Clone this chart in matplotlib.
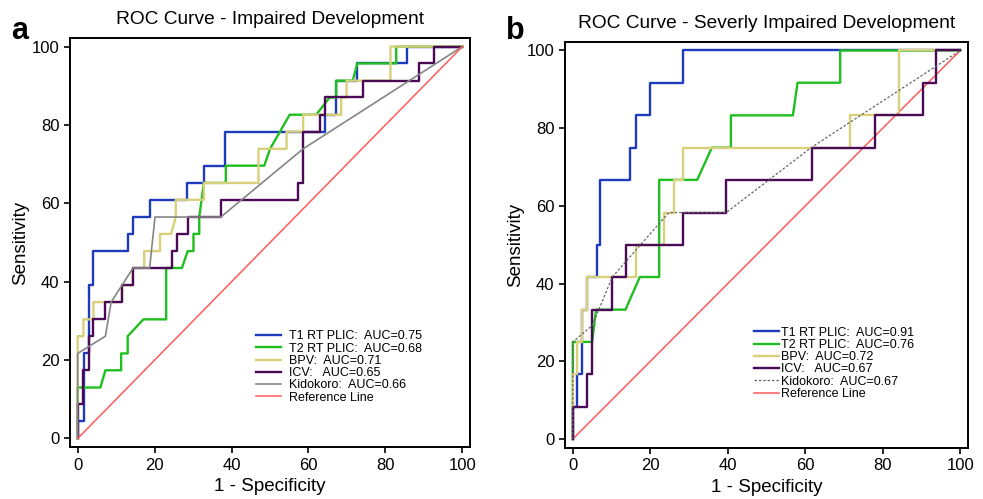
import matplotlib.pyplot as plt

plt.rcParams['font.family'] = ['Liberation Sans', 'DejaVu Sans']

# panel a: impaired development (1 - specificity, sensitivity) in %
a_t1_fpr = [0, 0, 1.6, 1.6, 2.9, 2.9, 4.1, 4.1, 13.0, 13.0, 14.4, 14.4, 18.7, 18.7, 28.5, 28.5,
            32.8, 32.8, 38.4, 38.4, 64.2, 64.2, 67.1, 67.1, 72.7, 72.7, 85.7, 85.7, 100]
a_t1_tpr = [0, 4.35, 4.35, 21.7, 21.7, 39.1, 39.1, 47.8, 47.8, 52.2, 52.2, 56.5, 56.5, 60.9, 60.9, 65.2,
            65.2, 69.6, 69.6, 78.3, 78.3, 82.6, 82.6, 91.3, 91.3, 95.7, 95.7, 100, 100]

a_t2_fpr = [0, 0, 5.9, 7.2, 11.3, 11.3, 13.0, 13.0, 17.1, 23.0, 23.0, 27.1, 28.6, 30.1, 30.1, 31.6,
            31.6, 32.8, 38.5, 38.5, 48.5, 50.0, 52.6, 55.1, 62.0, 65.5, 67.2, 67.2, 71.5, 72.7, 82.8, 82.8, 100]
a_t2_tpr = [0, 13.0, 13.0, 17.4, 17.4, 21.7, 21.7, 26.1, 30.4, 30.4, 43.5, 43.5, 47.8, 47.8, 52.2, 52.2,
            56.5, 65.2, 65.2, 69.6, 69.6, 73.9, 78.3, 82.6, 82.6, 87.0, 87.0, 91.3, 91.3, 95.7, 95.7, 100, 100]

a_bpv_fpr = [0, 0, 1.5, 1.5, 4.1, 4.1, 11.5, 11.5, 14.3, 14.3, 17.3, 17.3, 21.4, 21.4, 24.3, 25.5,
             25.5, 32.8, 32.8, 47.0, 47.0, 54.3, 54.3, 58.6, 58.6, 68.5, 68.5, 69.9, 69.9, 81.3, 81.3, 100]
a_bpv_tpr = [0, 26.1, 26.1, 30.4, 30.4, 34.8, 34.8, 39.1, 39.1, 43.5, 43.5, 47.8, 47.8, 52.2, 52.2, 56.5,
             60.9, 60.9, 65.2, 65.2, 73.9, 73.9, 78.3, 78.3, 82.6, 82.6, 87.0, 87.0, 91.3, 91.3, 100, 100]

a_icv_fpr = [0, 0, 1.5, 1.5, 2.9, 2.9, 4.1, 4.1, 7.2, 7.2, 11.5, 11.5, 14.4, 14.4, 24.4, 24.4,
             25.7, 25.7, 28.7, 28.7, 37.3, 37.3, 57.3, 57.3, 58.6, 58.6, 62.9, 62.9, 64.2, 64.2,
             74.2, 74.2, 88.6, 88.6, 92.7, 92.7, 100]
a_icv_tpr = [0, 8.7, 8.7, 17.4, 17.4, 26.1, 26.1, 30.4, 30.4, 34.8, 34.8, 39.1, 39.1, 43.5, 43.5, 47.8,
             47.8, 52.2, 52.2, 56.5, 56.5, 60.9, 60.9, 65.2, 65.2, 78.3, 78.3, 82.6, 82.6, 87.0,
             87.0, 91.3, 91.3, 95.7, 95.7, 100, 100]

a_kid_fpr = [0, 0, 7.2, 8.7, 14.4, 18.7, 20.1, 37.2, 58.6, 100]
a_kid_tpr = [0, 21.7, 26.1, 34.8, 43.5, 43.5, 56.5, 56.5, 73.9, 100]

# panel b: severely impaired development
b_t1_fpr = [0, 0, 1.2, 1.2, 2.4, 2.4, 3.7, 3.7, 6.3, 6.3, 7.1, 7.1, 14.7, 14.7, 16.2, 16.2,
            20.0, 20.0, 28.5, 28.5, 100]
b_t1_tpr = [0, 8.3, 8.3, 16.7, 16.7, 33.3, 33.3, 41.7, 41.7, 50.0, 50.0, 66.7, 66.7, 75.0, 75.0, 83.3,
            83.3, 91.7, 91.7, 100, 100]

b_t2_fpr = [0, 0, 5.0, 6.0, 13.6, 17.3, 22.3, 22.3, 32.1, 35.9, 40.8, 40.8, 56.8, 58.0, 69.0, 69.0, 100]
b_t2_tpr = [0, 25.0, 25.0, 33.3, 33.3, 41.7, 41.7, 66.7, 66.7, 75.0, 75.0, 83.3, 83.3, 91.7, 91.7, 100, 100]

b_bpv_fpr = [0, 0, 1.2, 1.2, 2.4, 2.4, 3.7, 3.7, 16.2, 16.2, 23.5, 23.5, 26.0, 26.0, 28.5, 28.5,
             71.6, 71.6, 84.1, 84.1, 100]
b_bpv_tpr = [0, 16.7, 16.7, 25.0, 25.0, 33.3, 33.3, 41.7, 41.7, 50.0, 50.0, 58.3, 58.3, 66.7, 66.7, 75.0,
             75.0, 83.3, 83.3, 100, 100]

b_icv_fpr = [0, 0, 3.7, 3.7, 5.0, 5.0, 10.0, 10.0, 13.8, 13.8, 28.5, 28.5, 39.6, 39.6, 61.7, 61.7,
             78.1, 78.1, 90.4, 90.4, 93.8, 93.8, 100]
b_icv_tpr = [0, 8.3, 8.3, 16.7, 16.7, 33.3, 33.3, 41.7, 41.7, 50.0, 50.0, 58.3, 58.3, 66.7, 66.7, 75.0,
             75.0, 83.3, 83.3, 91.7, 91.7, 100, 100]

b_kid_fpr = [0, 0, 5.0, 10.2, 17.5, 24.8, 39.6, 61.5, 100]
b_kid_tpr = [0, 25.0, 29.2, 41.7, 50.0, 58.3, 58.3, 75.0, 100]

a_labels = ['T1 RT PLIC:  AUC=0.75', 'T2 RT PLIC:  AUC=0.68', 'BPV:  AUC=0.71',
            'ICV:   AUC=0.65', 'Kidokoro:  AUC=0.66', 'Reference Line']
b_labels = ['T1 RT PLIC:  AUC=0.91', 'T2 RT PLIC:  AUC=0.76', 'BPV:  AUC=0.72',
            'ICV:   AUC=0.67', 'Kidokoro:  AUC=0.67', 'Reference Line']

c_blue = '#1c3cbd'
c_green = '#1fbf1f'
c_yellow = '#d8d07a'
c_purple = '#4a0a55'
c_gray = '#858585'
c_red = '#ff5a5a'


def style_axes(ax, title):
    ax.set_xlim(-2, 102)
    ax.set_ylim(-2.2, 102.2)
    ax.set_xticks([0, 20, 40, 60, 80, 100])
    ax.set_yticks([0, 20, 40, 60, 80, 100])
    ax.tick_params(labelsize=12, length=4, width=1.2)
    for s in ax.spines.values():
        s.set_linewidth(1.4)
    ax.set_xlabel('1 - Specificity', fontsize=13.5)
    ax.set_ylabel('Sensitivity', fontsize=13.5, labelpad=2)
    ax.set_title(title, fontsize=13.8, pad=10)


fig = plt.figure(figsize=(9.83, 4.99), dpi=100)
ax1 = fig.add_axes([0.0712, 0.104, 0.407, 0.820])
ax2 = fig.add_axes([0.5748, 0.103, 0.410, 0.813])

lw = 1.7
ax1.plot(a_t1_fpr, a_t1_tpr, color=c_blue, lw=lw, label=a_labels[0])
ax1.plot(a_t2_fpr, a_t2_tpr, color=c_green, lw=lw, label=a_labels[1])
ax1.plot(a_bpv_fpr, a_bpv_tpr, color=c_yellow, lw=lw, label=a_labels[2])
ax1.plot(a_icv_fpr, a_icv_tpr, color=c_purple, lw=lw, label=a_labels[3])
ax1.plot(a_kid_fpr, a_kid_tpr, color=c_gray, lw=1.2, label=a_labels[4])
ax1.plot([0, 100], [0, 100], color=c_red, lw=1.1, label=a_labels[5])
style_axes(ax1, 'ROC Curve - Impaired Development')
ax1.legend(loc='upper left', bbox_to_anchor=(0.465, 0.285), frameon=False, fontsize=9,
           borderpad=0, borderaxespad=0, labelspacing=0.02, handlelength=2.0, handletextpad=0.6)

ax2.plot([0, 100], [0, 100], color=c_red, lw=1.1, zorder=1)
ax2.plot(b_t1_fpr, b_t1_tpr, color=c_blue, lw=lw, label=b_labels[0])
ax2.plot(b_t2_fpr, b_t2_tpr, color=c_green, lw=lw, label=b_labels[1])
ax2.plot(b_bpv_fpr, b_bpv_tpr, color=c_yellow, lw=lw, label=b_labels[2])
ax2.plot(b_icv_fpr, b_icv_tpr, color=c_purple, lw=lw, label=b_labels[3])
ax2.plot(b_kid_fpr, b_kid_tpr, color='#666666', lw=0.9, ls=(0, (2, 1.5)), label=b_labels[4])
ax2.plot([], [], color=c_red, lw=1.1, label=b_labels[5])
style_axes(ax2, 'ROC Curve - Severly Impaired Development')
ax2.legend(loc='upper left', bbox_to_anchor=(0.47, 0.298), frameon=False, fontsize=9,
           borderpad=0, borderaxespad=0, labelspacing=0.02, handlelength=2.0, handletextpad=0.1)

fig.text(0.011, 0.937, 'a', fontsize=22, fontweight='bold', va='center')
fig.text(0.515, 0.937, 'b', fontsize=22, fontweight='bold', va='center')

fig.savefig('out.png', dpi=100)
